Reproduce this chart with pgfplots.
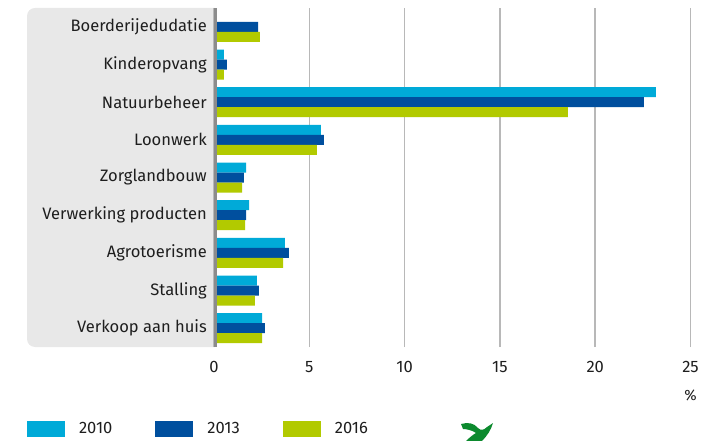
\documentclass[border=0pt]{standalone}
\usepackage{fontspec}
\setmainfont{Fira Sans}
\usepackage{pgfplots}
\pgfplotsset{compat=1.18}
\definecolor{cA}{HTML}{00AAD8}
\definecolor{cB}{HTML}{004F9E}
\definecolor{cC}{HTML}{B2CA00}
\definecolor{bggray}{HTML}{E8E8E8}
\definecolor{axgray}{HTML}{8C8C8C}
\definecolor{gridgray}{HTML}{B8B8B8}
\definecolor{txt}{HTML}{1E1E1E}
\definecolor{logo}{HTML}{0C8A2E}
\begin{document}
\begin{tikzpicture}[x=1bp,y=1bp]
\fill[bggray, rounded corners=8bp] (27,-8) rectangle (240,-347);
\fill[white] (215,-4) rectangle (245,-351);
\begin{axis}[
  at={(214bp,-347bp)}, anchor=south west,
  scale only axis, width=476.5bp, height=339bp,
  xbar, bar width=10bp,
  xmin=0, xmax=25, ymin=-0.5, ymax=8.5,
  ytick={0,...,8},
  yticklabels={Verkoop aan huis, Stalling, Agrotoerisme, Verwerking producten, Zorglandbouw, Loonwerk, Natuurbeheer, Kinderopvang, Boerderijedudatie},
  xtick={0,5,...,25},
  axis x line*=bottom, axis y line*=left,
  x axis line style={draw=none}, y axis line style={draw=none},
  major tick length=0pt, tick style={draw=none},
  xmajorgrids, grid style={gridgray, line width=1.5bp},
  /pgf/number format/assume math mode=true,
  tick label style={font=\fontsize{16.6}{18}\selectfont, text=txt},
  yticklabel style={inner sep=0pt, anchor=east, xshift=-7bp},
  xticklabel style={inner sep=0pt, anchor=center, yshift=-20bp},
  xlabel={\%},
  every axis x label/.style={at={(axis description cs:1,0)}, anchor=center, yshift=-48bp, font=\fontsize{15}{17}\selectfont, text=txt},
  legend columns=3,
  legend image code/.code={\fill[#1] (0bp,-8bp) rectangle (38bp,8bp);},
  legend style={at={(axis description cs:-0.399,-0.241)}, anchor=west, draw=none, fill=none,
    font=\fontsize{16.6}{18}\selectfont, text=txt,
    nodes={inner sep=0pt},
    /tikz/every odd column/.append style={column sep=14bp},
    /tikz/every even column/.append style={column sep=43bp}},
]
\addplot[fill=cA, draw=none, bar shift=10bp] coordinates {
 (2.52,0) (2.25,1) (3.72,2) (1.84,3) (1.68,4) (5.61,5) (23.18,6) (0.52,7) (0,8)};
\addplot[fill=cB, draw=none, bar shift=0bp] coordinates {
 (2.67,0) (2.36,1) (3.93,2) (1.68,3) (1.57,4) (5.77,5) (22.55,6) (0.68,7) (2.31,8)};
\addplot[fill=cC, draw=none, bar shift=-10bp] coordinates {
 (2.52,0) (2.15,1) (3.62,2) (1.63,3) (1.47,4) (5.40,5) (18.56,6) (0.52,7) (2.41,8)};
\legend{2010,2013,2016}
\draw[axgray, line width=3bp] ([xshift=1.5bp]axis cs:0,-0.5) -- ([xshift=1.5bp]axis cs:0,8.5);
\end{axis}
\fill[logo] (461,-424) .. controls (468,-422) and (474,-423) .. (478,-428)
  .. controls (481,-431) and (484,-430) .. (487,-427) -- (493,-423)
  .. controls (491,-430) and (487,-436) .. (482,-441) -- (466,-441)
  .. controls (470,-437) and (474,-434) .. (476,-433)
  .. controls (472,-430) and (466,-429) .. (463,-429) -- cycle;
\path[use as bounding box] (0,0) rectangle (707,-441);
\end{tikzpicture}
\end{document}
